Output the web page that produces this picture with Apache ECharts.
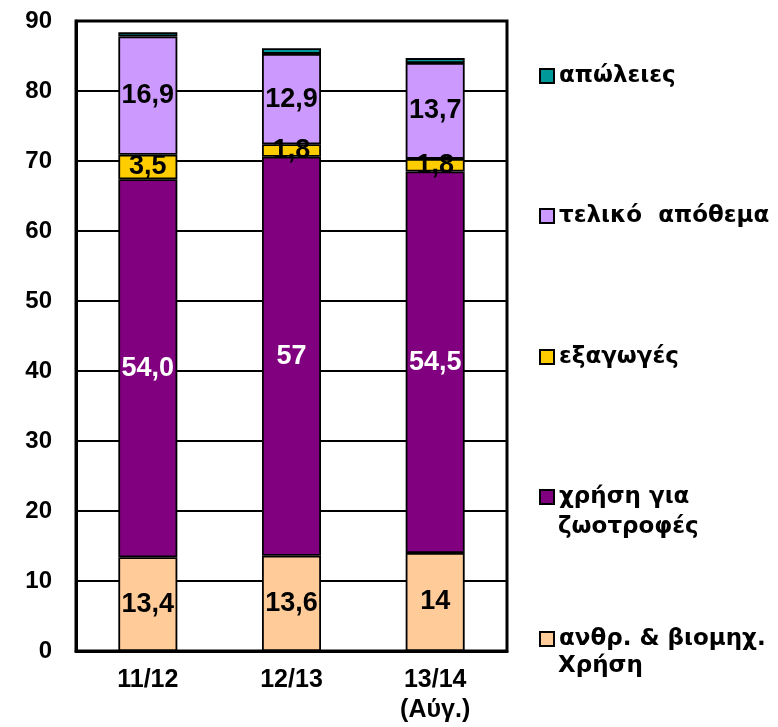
<!DOCTYPE html>
<html>
<head>
<meta charset="utf-8">
<script src="https://cdn.jsdelivr.net/npm/echarts@6/dist/echarts.min.js"></script>
<style>
html,body{margin:0;padding:0;background:#fff;}
#c{width:778px;height:727px;}
</style>
</head>
<body>
<div id="c"></div>
<script>
const categories = ['11/12', '12/13', '13/14\n(Αύγ.)'];
const humanUse = [13.4, 13.6, 14];
const humanLabels = ['13,4', '13,6', '14'];
const feedUse = [54.0, 57, 54.5];
const feedLabels = ['54,0', '57', '54,5'];
const exportsVals = [3.5, 1.8, 1.8];
const exportLabels = ['3,5', '1,8', '1,8'];
const endStock = [16.9, 12.9, 13.7];
const stockLabels = ['16,9', '12,9', '13,7'];
const losses = [0.6, 0.8, 0.7];

const names = ['ανθρ. & βιομηχ.\nΧρήση', 'χρήση για\nζωοτροφές', 'εξαγωγές', 'τελικό  απόθεμα', 'απώλειες'];
const colors = ['#FFCC99', '#800080', '#FFCC00', '#CC99FF', '#009999'];
const FONT = '"Liberation Sans", Arial, sans-serif';
const LFONT = '"DejaVu Sans", sans-serif';

function barSeries(i, data, labels, labelColor) {
  return {
    name: names[i],
    type: 'bar',
    stack: 'total',
    barWidth: 59,
    data: data,
    itemStyle: { color: colors[i], borderColor: '#000', borderWidth: 1.8 },
    label: labels ? {
      show: true,
      position: 'inside',
      formatter: p => labels[p.dataIndex],
      color: labelColor,
      fontFamily: FONT,
      fontWeight: 'bold',
      fontSize: 27,
      textBorderWidth: 0
    } : { show: false },
    emphasis: { disabled: true }
  };
}

const legendTops = [63, 203, 344, 484, 626]; // losses, stock, exports, feed, human
const legendOrder = [4, 3, 2, 1, 0];
const legends = legendOrder.map((si, k) => ({
  data: [names[si]],
  left: 539,
  top: legendTops[k],
  padding: 0,
  itemWidth: 14,
  itemHeight: 14,
  icon: 'rect',
  selectedMode: false,
  formatter: n => n.split('\n')[0],
  textStyle: { fontFamily: LFONT, fontWeight: 'bold', fontSize: 23, color: '#000', lineHeight: 26 }
}));

const chart = echarts.init(document.getElementById('c'), null, { renderer: 'canvas' });
chart.setOption({
  animation: false,
  backgroundColor: '#fff',
  grid: { left: 76, right: 271, top: 21, bottom: 76, show: true, borderColor: '#000', borderWidth: 3, backgroundColor: 'transparent' },
  legend: legends,
  xAxis: {
    type: 'category',
    data: categories,
    axisLine: { lineStyle: { color: '#000', width: 3 } },
    axisTick: { show: false },
    axisLabel: { color: '#000', fontFamily: FONT, fontWeight: 'bold', fontSize: 25, lineHeight: 30, margin: 14 }
  },
  yAxis: {
    type: 'value',
    min: 0, max: 90, interval: 10,
    axisLine: { show: true, lineStyle: { color: '#000', width: 3 } },
    axisTick: { show: false },
    splitLine: { show: true, lineStyle: { color: '#000', width: 2 } },
    axisLabel: { color: '#000', fontFamily: FONT, fontWeight: 'bold', fontSize: 24, margin: 24 }
  },
  graphic: [
    { type: 'text', left: 558, top: 516, style: { text: 'ζωοτροφές', font: 'bold 23px ' + LFONT, fill: '#000' } },
    { type: 'text', left: 558, top: 655, style: { text: 'Χρήση', font: 'bold 23px ' + LFONT, fill: '#000' } }
  ],
  series: [
    barSeries(0, humanUse, humanLabels, '#000'),
    barSeries(1, feedUse, feedLabels, '#fff'),
    barSeries(2, exportsVals, exportLabels, '#000'),
    barSeries(3, endStock, stockLabels, '#000'),
    barSeries(4, losses, null, '#000')
  ]
});
</script>
</body>
</html>
